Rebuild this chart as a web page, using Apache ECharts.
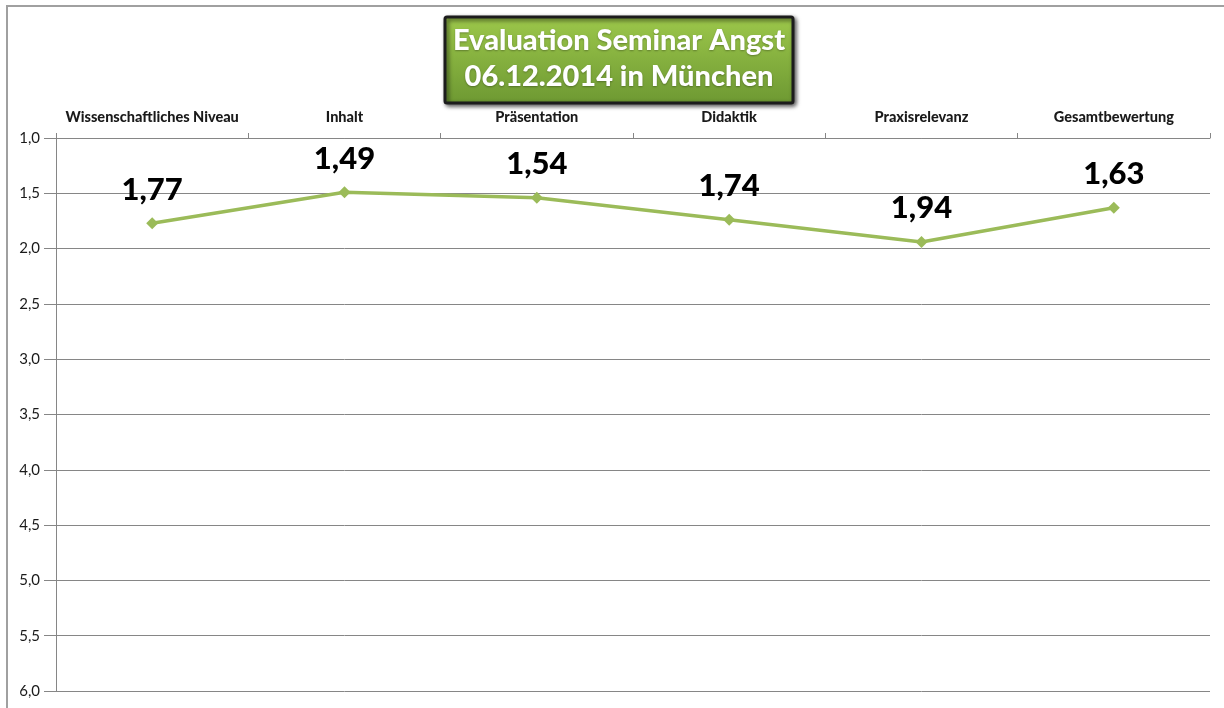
<!DOCTYPE html>
<html>
<head>
<meta charset="utf-8">
<script src="https://cdn.jsdelivr.net/npm/echarts@6/dist/echarts.min.js"></script>
<style>html,body{margin:0;padding:0;background:#fff;}#c{width:1224px;height:708px;}</style>
</head>
<body>
<div id="c"></div>
<script>
const categories = ["Wissenschaftliches Niveau", "Inhalt", "Präsentation", "Didaktik", "Praxisrelevanz", "Gesamtbewertung"];
const values = [1.77, 1.49, 1.54, 1.74, 1.94, 1.63];
const titleLines = ["Evaluation Seminar Angst", "06.12.2014 in München"];
const yMin = 1, yMax = 6, yStep = 0.5;

const FONT = "Lato";
const chart = echarts.init(document.getElementById('c'), null, {renderer: 'canvas'});
const fmt = v => v.toFixed(1).replace('.', ',');
chart.setOption({
  backgroundColor: '#fff',
  animation: false,
  grid: {left: 56, right: 14, top: 138, bottom: 17},
  xAxis: {
    type: 'category', position: 'top', data: categories, boundaryGap: true,
    axisLine: {lineStyle: {color: '#868686', width: 1}},
    axisTick: {show: true, length: 5, inside: false, lineStyle: {color: '#868686'}},
    axisLabel: {fontFamily: FONT, fontWeight: 900, fontSize: 14.5, color: '#1a1a1a', margin: 13, interval: 0}
  },
  yAxis: {
    type: 'value', inverse: true, min: yMin, max: yMax, interval: yStep,
    axisLine: {show: true, lineStyle: {color: '#868686', width: 1}},
    axisTick: {show: true, length: 12, lineStyle: {color: '#868686'}},
    axisLabel: {fontFamily: FONT, fontSize: 15, color: '#1a1a1a', margin: 16, formatter: fmt},
    splitLine: {lineStyle: {color: '#868686', width: 1}}
  },
  series: [{
    type: 'line', data: values,
    symbol: 'diamond', symbolSize: 12,
    lineStyle: {color: '#9bbb59', width: 3.5},
    itemStyle: {color: '#9bbb59'},
    label: {show: true, position: 'top', distance: 12, fontFamily: FONT, fontWeight: 900, fontSize: 31, color: '#000',
      formatter: p => p.value.toFixed(2).replace('.', ',')}
  }],
  graphic: [
    {type: 'rect', silent: true, z: -1, shape: {x: 7, y: 6, width: 1240, height: 720}, style: {fill: 'none', stroke: '#a0a0a0', lineWidth: 2}},
    {type: 'rect', shape: {x: 445, y: 17, width: 348, height: 86, r: 2},
      style: {fill: new echarts.graphic.LinearGradient(0, 0, 0, 1, [{offset: 0, color: '#9dc84b'}, {offset: 1, color: '#6d9832'}]),
        stroke: '#1c1c1c', lineWidth: 3, shadowColor: 'rgba(0,0,0,0.6)', shadowBlur: 4, shadowOffsetX: 2, shadowOffsetY: 2}},
    {type: 'text', style: {x: 619, y: 41, text: titleLines[0], fill: '#fff', font: '900 29px ' + FONT, textAlign: 'center', textVerticalAlign: 'middle', textShadowColor: 'rgba(0,0,0,0.3)', textShadowBlur: 2, textShadowOffsetY: 1}},
    {type: 'text', style: {x: 619, y: 77, text: titleLines[1], fill: '#fff', font: '900 29px ' + FONT, textAlign: 'center', textVerticalAlign: 'middle', textShadowColor: 'rgba(0,0,0,0.3)', textShadowBlur: 2, textShadowOffsetY: 1}}
  ]
});
</script>
</body>
</html>
